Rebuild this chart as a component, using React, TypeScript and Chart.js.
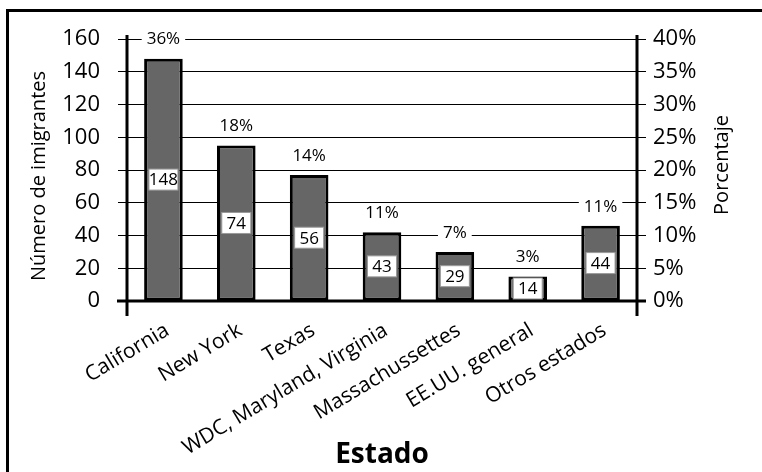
import React, { useEffect, useRef } from 'react';
import { Chart, registerables } from 'chart.js';

Chart.register(...registerables);

const categories = [
  'California',
  'New York',
  'Texas',
  'WDC, Maryland, Virginia',
  'Massachussettes',
  'EE.UU. general',
  'Otros estados',
];
const barHeights = [148, 95, 77, 42, 30, 15, 46];
const countLabels = ['148', '74', '56', '43', '29', '14', '44'];
const percentLabels = ['36%', '18%', '14%', '11%', '7%', '3%', '11%'];
const countAxisMax = 160;
const countAxisStep = 20;
const pctAxisMax = 40;
const pctAxisStep = 5;
const yTitle = 'Número de imigrantes';
const y2Title = 'Porcentaje';
const xTitle = 'Estado';

const FONT = "'Open Sans', 'DejaVu Sans', sans-serif";

const decorPlugin = {
  id: 'decor',
  beforeDraw(chart: any) {
    const ctx = chart.ctx;
    ctx.save();
    ctx.fillStyle = '#ffffff';
    ctx.fillRect(0, 0, chart.width, chart.height);
    ctx.strokeStyle = '#000000';
    ctx.lineWidth = 3;
    ctx.strokeRect(7.5, 10.5, chart.width + 40, chart.height + 40);
    ctx.restore();
  },
  afterDatasetsDraw(chart: any) {
    const ctx = chart.ctx;
    const a = chart.chartArea;
    const meta = chart.getDatasetMeta(0);
    ctx.save();
    // axis lines
    ctx.strokeStyle = '#000000';
    ctx.lineWidth = 3;
    ctx.beginPath();
    ctx.moveTo(a.left, a.top - 4);
    ctx.lineTo(a.left, a.bottom + 15);
    ctx.moveTo(a.right, a.top - 4);
    ctx.lineTo(a.right, a.bottom + 15);
    ctx.moveTo(a.left - 10, a.bottom);
    ctx.lineTo(a.right + 9, a.bottom);
    ctx.stroke();

    ctx.textAlign = 'center';
    ctx.textBaseline = 'middle';
    meta.data.forEach((bar: any, i: number) => {
      const { x, y, base } = bar.getProps(['x', 'y', 'base'], true);
      // percentage label above bar
      ctx.font = `17px ${FONT}`;
      const t = percentLabels[i];
      const w = ctx.measureText(t).width;
      const cy = y - 19;
      ctx.fillStyle = '#ffffff';
      ctx.fillRect(x - w / 2 - 5, cy - 9, w + 10, 18);
      ctx.fillStyle = '#000000';
      ctx.fillText(t, x, cy);
      // count box in the bar
      const my = (y + base) / 2;
      ctx.fillStyle = '#ffffff';
      ctx.fillRect(x - 14.5, my - 10.5, 29, 21);
      ctx.strokeStyle = '#9a9a9a';
      ctx.lineWidth = 1;
      ctx.strokeRect(x - 14.5, my - 10.5, 29, 21);
      ctx.fillStyle = '#000000';
      ctx.font = `17px ${FONT}`;
      ctx.fillText(countLabels[i], x, my + 1);
    });

    // axis titles (both read bottom-to-top)
    ctx.fillStyle = '#000000';
    ctx.font = `20px ${FONT}`;
    ctx.save();
    ctx.translate(39, (a.top + a.bottom) / 2 + 6);
    ctx.rotate(-Math.PI / 2);
    ctx.fillText(yTitle, 0, 0);
    ctx.restore();

    ctx.save();
    ctx.translate(a.right + 85, (a.top + a.bottom) / 2 - 5);
    ctx.rotate(-Math.PI / 2);
    ctx.fillText(y2Title, 0, 0);
    ctx.restore();
    ctx.restore();
  },
};

export default function App() {
  const canvasRef = useRef<HTMLCanvasElement | null>(null);

  useEffect(() => {
    const canvas = canvasRef.current;
    if (!canvas) return;
    const chart = new Chart(canvas, {
      type: 'bar',
      data: {
        labels: categories,
        datasets: [
          {
            data: barHeights,
            backgroundColor: '#666666',
            borderColor: '#000000',
            borderWidth: 3,
            borderSkipped: false,
            barPercentage: 0.53,
            categoryPercentage: 1,
            yAxisID: 'y',
          },
        ],
      },
      options: {
        responsive: false,
        animation: false,
        devicePixelRatio: 1,
        layout: { padding: { top: 39, left: 0, right: 0, bottom: 0 } },
        plugins: {
          legend: { display: false },
          tooltip: { enabled: false },
        },
        scales: {
          x: {
            grid: { display: false },
            border: { display: false },
            ticks: {
              color: '#000000',
              font: { family: FONT, size: 21 },
              minRotation: 31,
              maxRotation: 31,
              autoSkip: false,
              padding: 9,
              labelOffset: 4,
            },
            title: {
              display: true,
              text: xTitle,
              color: '#000000',
              font: { family: FONT, size: 28, weight: 'bold' },
              padding: { top: 0, bottom: 0 },
            },
            afterFit(scale: any) {
              scale.height = 171;
            },
          },
          y: {
            position: 'left',
            min: 0,
            max: countAxisMax,
            ticks: {
              stepSize: countAxisStep,
              color: '#000000',
              font: { family: FONT, size: 22 },
              padding: 18,
            },
            grid: { color: '#000000', lineWidth: 1, tickLength: 9 },
            border: { display: false },
            afterFit(scale: any) {
              scale.width = 127;
            },
          },
          y2: {
            position: 'right',
            min: 0,
            max: pctAxisMax,
            ticks: {
              stepSize: pctAxisStep,
              color: '#000000',
              font: { family: FONT, size: 22 },
              padding: 7,
              callback: (v: any) => `${v}%`,
            },
            grid: { drawOnChartArea: false, color: '#000000', lineWidth: 1, tickLength: 9 },
            border: { display: false },
            afterFit(scale: any) {
              scale.width = 125;
            },
          },
        },
      },
      plugins: [decorPlugin],
    });
    return () => chart.destroy();
  }, []);

  return (
    <div style={{ position: 'absolute', left: 0, top: 0, width: 762, height: 472 }}>
      <canvas ref={canvasRef} width={762} height={472} style={{ display: 'block' }} />
    </div>
  );
}
